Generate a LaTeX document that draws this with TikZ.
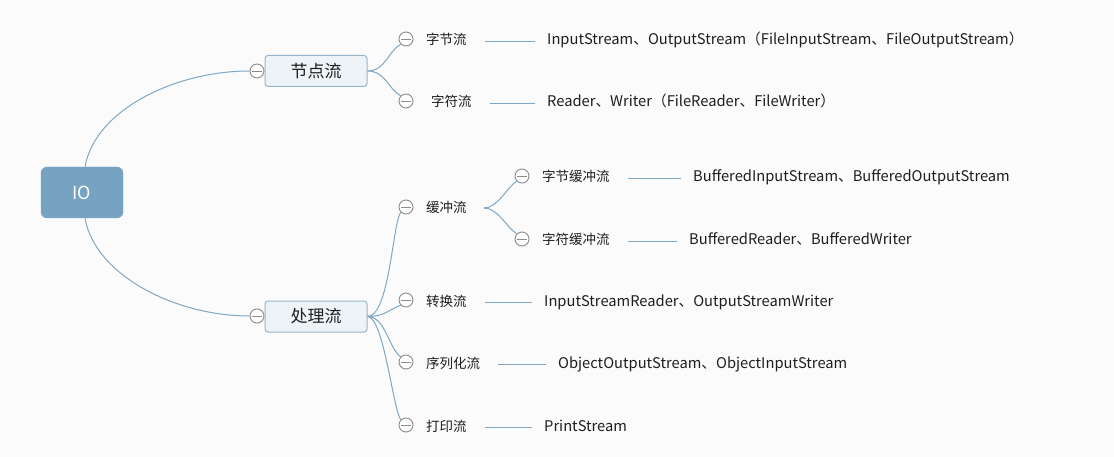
\documentclass[tikz,border=0pt]{standalone}
\usepackage{fontspec}
\setmainfont{Noto Sans CJK SC}
\usetikzlibrary{calc}
\definecolor{bgc}{HTML}{FBFBFB}
\definecolor{rootc}{HTML}{76A3C1}
\definecolor{subfill}{HTML}{EEF3F7}
\definecolor{subdraw}{HTML}{96B5CC}
\definecolor{linkc}{HTML}{80A7C4}
\definecolor{togc}{HTML}{8C8C8C}
\definecolor{txt}{HTML}{1E1E1E}
\tikzset{
  rootbox/.style={draw=rootc, fill=rootc, rounded corners=6pt, minimum width=82pt, minimum height=51pt, text=white, font=\fontsize{18}{21}\selectfont},
  subbox/.style={draw=subdraw, fill=subfill, rounded corners=3pt, minimum width=102pt, minimum height=31pt, line width=1pt, text=txt, font=\fontsize{17}{20}\selectfont},
  toggle/.style={circle, draw=togc, fill=white, minimum size=14pt, inner sep=0pt, line width=0.9pt,
    path picture={\draw[togc, line width=0.9pt] ([xshift=-5pt]path picture bounding box.center) -- ([xshift=5pt]path picture bounding box.center);}},
  lbl/.style={anchor=west, inner sep=0pt, text=txt, text height=10pt, text depth=3pt, font=\fontsize{13.5}{15}\selectfont},
  leaf/.style={anchor=west, inner sep=0pt, text=txt, text height=10pt, text depth=3pt, font=\fontsize{14.7}{16}\selectfont},
  link/.style={draw=linkc, line width=1pt},
  sep/.style={draw=linkc, line width=1pt, shorten <=18pt, shorten >=12pt},
}
\begin{document}
\begin{tikzpicture}[x=1pt,y=-1pt]
\fill[bgc] (0,0) rectangle (1114,457);
\useasboundingbox (0,0) rectangle (1114,457);

\node[rootbox] (io) at (82,192.5) {IO};
\node[subbox] (jd) at (316,71) {节点流};
\node[subbox] (cl) at (316,316.5) {处理流};

\node[toggle] (tjd) at (257,71) {};
\node[toggle] (tcl) at (257,316) {};

\node[toggle] (c1) at (406,39) {};
\node[toggle] (c2) at (406,101) {};
\node[toggle] (c3) at (406,207) {};
\node[toggle] (c4) at (406,300) {};
\node[toggle] (c5) at (406,362) {};
\node[toggle] (c6) at (406,425) {};
\node[toggle] (c31) at (522,176) {};
\node[toggle] (c32) at (522,239) {};

\node[lbl] (l1) at (426,41.5) {字节流};
\node[lbl] (l2) at (431,103.5) {字符流};
\node[lbl] (l3) at (426,209.5) {缓冲流};
\node[lbl] (l4) at (426,302.5) {转换流};
\node[lbl] (l5) at (426,364.5) {序列化流};
\node[lbl] (l6) at (426,427.5) {打印流};
\node[lbl] (l31) at (542,178.5) {字节缓冲流};
\node[lbl] (l32) at (542,241.5) {字符缓冲流};

\node[leaf] (t1) at (547,41.5) {InputStream、OutputStream（FileInputStream、FileOutputStream）};
\node[leaf] (t2) at (547,103.5) {Reader、Writer（FileReader、FileWriter）};
\node[leaf] (t31) at (693,178.5) {BufferedInputStream、BufferedOutputStream};
\node[leaf] (t32) at (689,241.5) {BufferedReader、BufferedWriter};
\node[leaf] (t4) at (544,302.5) {InputStreamReader、OutputStreamWriter};
\node[leaf] (t5) at (558,364.5) {ObjectOutputStream、ObjectInputStream};
\node[leaf] (t6) at (544,427.5) {PrintStream};

% root links
\draw[link] ([xshift=3pt]io.north) .. controls (95,110) and (175,71) .. (tjd.west);
\draw[link] ([xshift=3pt]io.south) .. controls (95,275) and (175,316) .. (tcl.west);

% level 2 links
\draw[link] (jd.east) .. controls +(18,0) and +(-12,6) .. (c1.south west);
\draw[link] (jd.east) .. controls +(18,0) and +(-12,-6) .. (c2.north west);
\draw[link] (cl.east) .. controls +(22,0) and +(-8,10) .. (c3.south west);
\draw[link] (cl.east) .. controls +(18,0) and +(-12,4) .. (c4.south west);
\draw[link] (cl.east) .. controls +(18,0) and +(-12,-8) .. (c5.north west);
\draw[link] (cl.east) .. controls +(16,0) and +(-8,-12) .. (c6.north west);

\coordinate (b3) at (484,208);
\draw[link] (b3) .. controls +(14,0) and +(-10,6) .. (c31.south west);
\draw[link] (b3) .. controls +(14,0) and +(-10,-6) .. (c32.north west);

% separators
\draw[sep] (l1.east) -- (t1.west);
\draw[sep] (l2.east) -- (t2.west);
\draw[sep] (l31.east) -- (t31.west);
\draw[sep] (l32.east) -- (t32.west);
\draw[sep] (l4.east) -- (t4.west);
\draw[sep] (l5.east) -- (t5.west);
\draw[sep] (l6.east) -- (t6.west);
\end{tikzpicture}
\end{document}
